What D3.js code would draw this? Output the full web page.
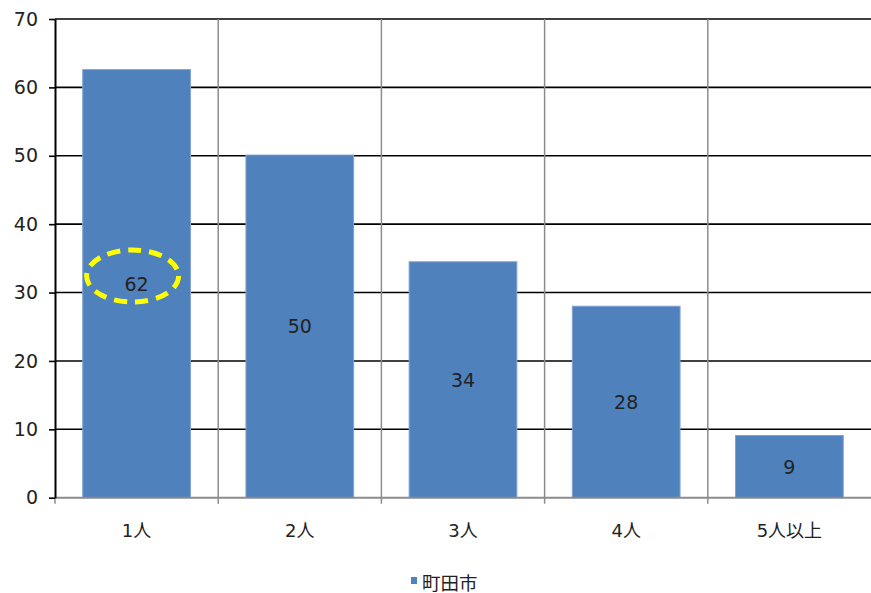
<!DOCTYPE html>
<html><head><meta charset="utf-8">
<script src="https://cdn.jsdelivr.net/npm/d3@7"></script>
<style>body{margin:0;background:#fff}svg{display:block}text{font-family:"DejaVu Sans","Noto Sans CJK JP",sans-serif;fill:#222}</style>
</head><body>
<svg id="c" width="871" height="593"></svg>
<script>
const categories = ["1人","2人","3人","4人","5人以上"];
const values = [62.6, 50.1, 34.5, 28.0, 9.1];
const valueLabels = ["62","50","34","28","9"];
const yTicks = [0,10,20,30,40,50,60,70];
const seriesName = "町田市";

const FONT = '"DejaVu Sans","Noto Sans CJK JP",sans-serif';
const svg = d3.select("#c");
const m = {l:55, r:0, t:19, b:95};
const W = 871, H = 593;
const x = d3.scaleBand().domain(categories).range([m.l, W - m.r]).paddingInner(0.34).paddingOuter(0.17);
const xb = d3.scaleBand().domain(categories).range([m.l, W - m.r]);
const y = d3.scaleLinear().domain([0,70]).range([497.7, m.t]);

// horizontal gridlines
svg.append("g").selectAll("line").data(yTicks.filter(d=>d>0)).join("line")
  .attr("x1", m.l).attr("x2", W).attr("y1", d=>y(d)).attr("y2", d=>y(d))
  .attr("stroke", "#000").attr("stroke-width", 1.6);
// vertical gridlines
svg.append("g").selectAll("line").data(categories.slice(1)).join("line")
  .attr("x1", d=>xb(d)).attr("x2", d=>xb(d)).attr("y1", y(70)).attr("y2", y(0)+6)
  .attr("stroke", "#8c8c8c").attr("stroke-width", 1.5);

// bars
svg.append("g").selectAll("rect").data(values).join("rect")
  .attr("x", (d,i)=>x(categories[i])).attr("width", x.bandwidth())
  .attr("y", d=>y(d)).attr("height", d=>y(0)-y(d))
  .attr("fill", "#4F81BD").attr("stroke", "#7FA2D3").attr("stroke-width", 1);

// value labels
svg.append("g").selectAll("text").data(values).join("text")
  .attr("x", (d,i)=>x(categories[i]) + x.bandwidth()/2)
  .attr("y", d=>(y(d)+y(0))/2 + 7)
  .attr("text-anchor","middle").attr("font-size", 19)
  .text((d,i)=>valueLabels[i]);

// x axis
svg.append("line").attr("x1", m.l).attr("x2", W).attr("y1", y(0)).attr("y2", y(0))
  .attr("stroke", "#8c8c8c").attr("stroke-width", 2);
svg.append("line").attr("x1", m.l).attr("x2", m.l).attr("y1", y(0)).attr("y2", y(0)+6)
  .attr("stroke", "#8c8c8c").attr("stroke-width", 1.5);
svg.append("g").selectAll("text").data(categories).join("text")
  .attr("x", d=>xb(d)+xb.bandwidth()/2).attr("y", 537)
  .attr("text-anchor","middle").attr("font-size", 18).text(d=>d);

// y axis
const yAxis = svg.append("g").attr("transform", `translate(${m.l},0)`)
  .call(d3.axisLeft(y).tickValues(yTicks).tickSize(6).tickPadding(11).tickSizeOuter(0));
yAxis.select(".domain").attr("stroke", "#000").attr("stroke-width", 2);
yAxis.selectAll(".tick line").attr("stroke", "#000").attr("stroke-width", 1.6);
yAxis.selectAll(".tick text").attr("font-size", 19).attr("fill", "#222")
  .attr("font-family", FONT);

// highlight ellipse
svg.append("ellipse").attr("cx", x(categories[0]) + x.bandwidth()/2 - 4).attr("cy", 276)
  .attr("rx", 46).attr("ry", 26)
  .attr("fill", "none").attr("stroke", "#FFFF00").attr("stroke-width", 5)
  .attr("stroke-dasharray", "13,8");

// legend
svg.append("rect").attr("x", 411).attr("y", 577).attr("width", 6).attr("height", 7).attr("fill", "#4F81BD");
svg.append("text").attr("x", 422).attr("y", 590).attr("font-size", 18.5).text(seriesName);
</script>
</body></html>
